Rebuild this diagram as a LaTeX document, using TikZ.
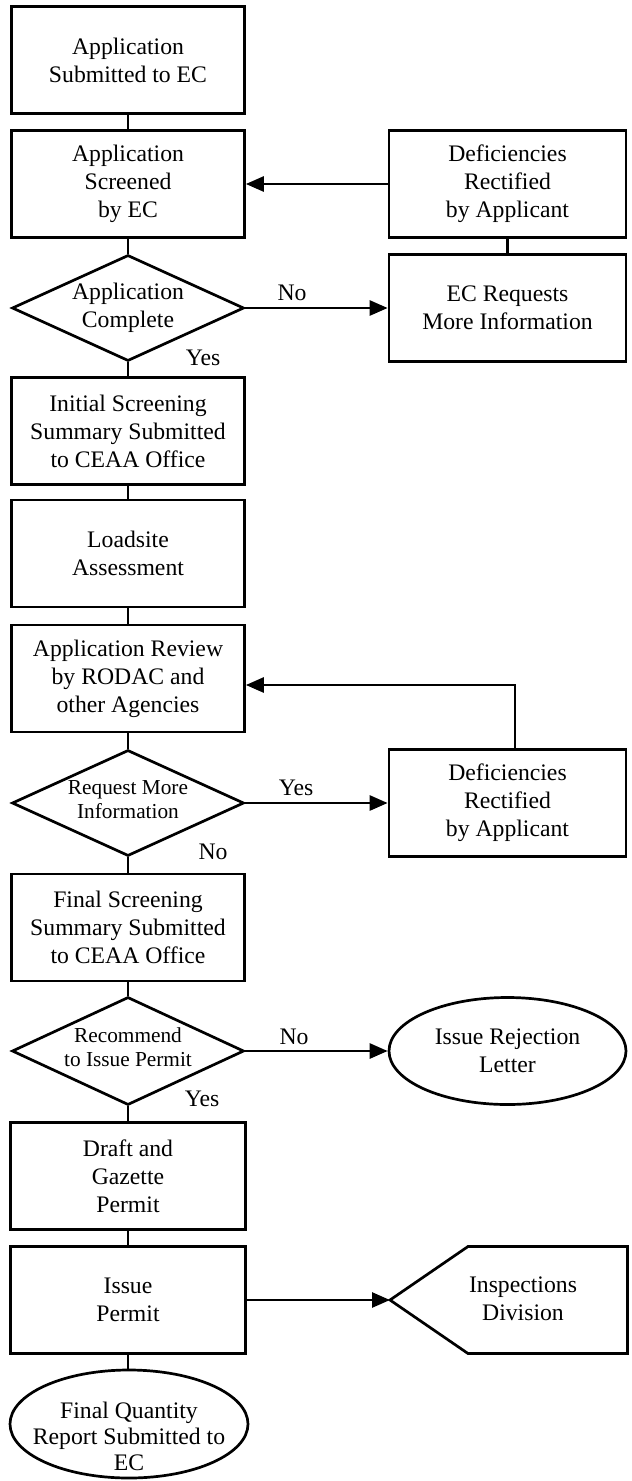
\documentclass[tikz,border=0pt]{standalone}
\usepackage{fontspec}
\setmainfont{Liberation Serif}
\usetikzlibrary{shapes.geometric,arrows.meta}
\begin{document}
\begin{tikzpicture}[x=1pt,y=-1pt,
  txt/.style={font=\fontsize{23.7}{28}\selectfont, align=center},
  smalltxt/.style={font=\fontsize{21.3}{24}\selectfont, align=center},
  box/.style={txt, draw, line width=2.7pt, minimum width=233pt, minimum height=107pt, inner sep=0pt},
  dia/.style={draw, diamond, line width=2.7pt, minimum width=232pt, minimum height=106pt, inner sep=0pt},
  oval/.style={draw, ellipse, line width=2.7pt, minimum width=237pt, minimum height=107pt, inner sep=0pt},
  conn/.style={line width=2.7pt},
  arr/.style={line width=2.7pt, -{Triangle[length=18pt,width=15pt]}},
  lbl/.style={txt}
]
\fill[white] (0,0) rectangle (632,1481);
\useasboundingbox (0,0) rectangle (632,1481);

\node[box] (b1) at (128,60) {Application\\Submitted to EC};
\node[box] (b2) at (128,184) {Application\\Screened\\by EC};
\node[box,minimum width=237pt] (r1) at (507.5,184) {Deficiencies\\Rectified\\by Applicant};
\node[dia, label={[txt]center:{Application\\Complete}}] (d1) at (128,308) {};
\node[box,minimum width=237pt] (r2) at (507.5,308) {EC Requests\\More Information};
\node[box] (b3) at (128,431) {Initial Screening\\Summary Submitted\\to CEAA Office};
\node[box] (b4) at (128,553.5) {Loadsite\\Assessment};
\node[box] (b5) at (128,678.5) {Application Review\\by RODAC and\\other Agencies};
\node[dia, label={[smalltxt,yshift=3pt]center:{Request More\\Information}}] (d2) at (128,803) {};
\node[box,minimum width=237pt] (r3) at (507.5,803) {Deficiencies\\Rectified\\by Applicant};
\node[box] (b6) at (128,927.5) {Final Screening\\Summary Submitted\\to CEAA Office};
\node[dia, minimum height=108pt, label={[smalltxt,yshift=4pt]center:{Recommend\\to Issue Permit}}] (d3) at (128,1051) {};
\node[oval, label={[txt]center:{Issue Rejection\\Letter}}] (e1) at (507.5,1051) {};
\node[box, minimum width=235pt] (b7) at (128,1176) {Draft and\\Gazette\\Permit};
\node[box, minimum width=235pt] (b8) at (128,1300) {Issue\\Permit};
\draw[conn] (390,1300) -- (468,1246.5) -- (627.5,1246.5) -- (627.5,1353.5) -- (468,1353.5) -- cycle;
\coordinate (tip) at (390,1300);
\node[txt] (insp) at (523,1299) {Inspections\\Division};
\node[oval, minimum width=238pt, minimum height=108pt, label={[txt,font=\fontsize{23.7}{26}\selectfont,yshift=-12pt]center:{Final Quantity\\Report Submitted to\\EC}}] (e2) at (129,1424) {};

\draw[conn] (b1) -- (b2);
\draw[conn] (b2) -- (d1);
\draw[conn] (d1) -- (b3);
\draw[conn] (b3) -- (b4);
\draw[conn] (b4) -- (b5);
\draw[conn] (b5) -- (d2);
\draw[conn] (d2) -- (b6);
\draw[conn] (b6) -- (d3);
\draw[conn] (d3) -- (b7);
\draw[conn] (b7) -- (b8);
\draw[conn] (b8.south) -- (b8.south |- e2.north);
\draw[conn] (r1) -- (r2);

\draw[arr] (r1.west) -- (b2.east);
\draw[arr] (d1.east) -- (r2.west);
\draw[arr] ([xshift=7.5pt]r3.north) |- ([yshift=-6.5pt]b5.east);
\draw[arr] (d2.east) -- (r3.west);
\draw[arr] (d3.east) -- (e1.west);
\draw[arr] (b8.east) -- (tip);

\node[lbl] (no1) at (292,293) {No};
\node[lbl] (yes1) at (203,358) {Yes};
\node[lbl] (yes2) at (296,788) {Yes};
\node[lbl] (no2) at (213,852) {No};
\node[lbl] (no3) at (294,1037) {No};
\node[lbl] (yes3) at (202,1099) {Yes};
\end{tikzpicture}
\end{document}
